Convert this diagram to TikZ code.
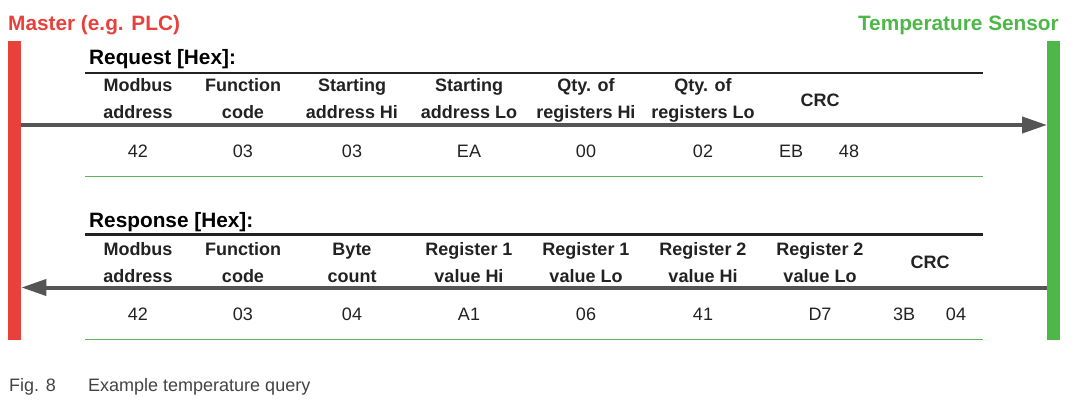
\documentclass[tikz,border=0pt]{standalone}
\usepackage{fontspec}
\setmainfont{Liberation Sans}
\usetikzlibrary{positioning,arrows.meta}

\definecolor{masterred}{HTML}{E8413C}
\definecolor{sensorgreen}{HTML}{4DB748}
\definecolor{rulegreen}{HTML}{5DB45A}
\definecolor{arrowgray}{HTML}{555555}
\definecolor{textdark}{HTML}{222222}

\begin{document}
\begin{tikzpicture}[
    x=1pt, y=-1pt,
    titletext/.style={font=\fontsize{20.8}{24}\selectfont\bfseries, anchor=base west, inner sep=0},
    headtext/.style={font=\fontsize{18}{27}\selectfont\bfseries, text=textdark, align=center, anchor=base, inner sep=0},
    valtext/.style={font=\fontsize{18}{22}\selectfont, text=textdark, anchor=base, inner sep=0},
    sidebar/.style={minimum width=13pt, minimum height=299pt, inner sep=0, draw=none, anchor=north west},
    blackrule/.style={line width=2.5pt, textdark},
    greenrule/.style={line width=1pt, rulegreen},
    msgarrow/.style={-{Triangle[length=25pt,width=16pt]}, line width=4pt, arrowgray}
]
\useasboundingbox (0,0) rectangle (1074,409);

% Master and slave
\node[titletext, text=masterred] (mastertitle) at (8,31) {Master (e.g. PLC)};
\node[titletext, text=sensorgreen, anchor=base east] (sensortitle) at (1059,31) {Temperature Sensor};
\node[sidebar, fill=masterred] (master) at (8,41) {};
\node[sidebar, fill=sensorgreen] (sensor) at (1047,41) {};

% Request frame (two-line heads sit on their last baseline)
\node[titletext] (reqtitle) at (89,65) {Request [Hex]:};
\draw[blackrule] (85,73) -- (983,73);
\node[headtext] (reqaddr) at (138,119) {Modbus\\address};
\node[headtext] (reqfunc) at (243,119) {Function\\code};
\node[headtext] (reqstarthi) at (352,119) {Starting\\address Hi};
\node[headtext] (reqstartlo) at (469,119) {Starting\\address Lo};
\node[headtext] (reqqtyhi) at (586,119) {Qty. of\\registers Hi};
\node[headtext] (reqqtylo) at (703,119) {Qty. of\\registers Lo};
\node[headtext] (reqcrc) at (820,106.5) {CRC};
\node[valtext] (reqaddrval) at (138,158) {42};
\node[valtext] (reqfuncval) at (243,158) {03};
\node[valtext] (reqstarthival) at (352,158) {03};
\node[valtext] (reqstartloval) at (469,158) {EA};
\node[valtext] (reqqtyhival) at (586,158) {00};
\node[valtext] (reqqtyloval) at (703,158) {02};
\node[valtext] (reqcrcA) at (791,158) {EB};
\node[valtext] (reqcrcB) at (849,158) {48};
\draw[greenrule] (85,177) -- (983,177);
\coordinate (reqy) at (0,125);
\draw[msgarrow] (master.east |- reqy) -- (sensor.west |- reqy);

% Response frame
\node[titletext] (restitle) at (89,227) {Response [Hex]:};
\draw[blackrule] (85,234.5) -- (983,234.5);
\node[headtext] (resaddr) at (138,282) {Modbus\\address};
\node[headtext] (resfunc) at (243,282) {Function\\code};
\node[headtext] (rescount) at (352,282) {Byte\\count};
\node[headtext] (resreghi) at (469,282) {Register 1\\value Hi};
\node[headtext] (resreglo) at (586,282) {Register 1\\value Lo};
\node[headtext] (resregtwohi) at (703,282) {Register 2\\value Hi};
\node[headtext] (resregtwolo) at (820,282) {Register 2\\value Lo};
\node[headtext] (rescrc) at (930,268) {CRC};
\node[valtext] (resaddrval) at (138,320) {42};
\node[valtext] (resfuncval) at (243,320) {03};
\node[valtext] (rescountval) at (352,320) {04};
\node[valtext] (resreghival) at (469,320) {A1};
\node[valtext] (resregloval) at (586,320) {06};
\node[valtext] (resregtwohival) at (703,320) {41};
\node[valtext] (resregtwoloval) at (820,320) {D7};
\node[valtext] (rescrcA) at (904,320) {3B};
\node[valtext] (rescrcB) at (956,320) {04};
\draw[greenrule] (85,339) -- (983,339);
\coordinate (resy) at (0,287.5);
\draw[msgarrow] (sensor.west |- resy) -- (master.east |- resy);

% Caption
\node[valtext, anchor=base west, text=textdark!85] (fignum) at (9,391) {Fig. 8};
\node[valtext, anchor=base west, text=textdark!85] (figtext) at (88,391) {Example temperature query};

\end{tikzpicture}
\end{document}
